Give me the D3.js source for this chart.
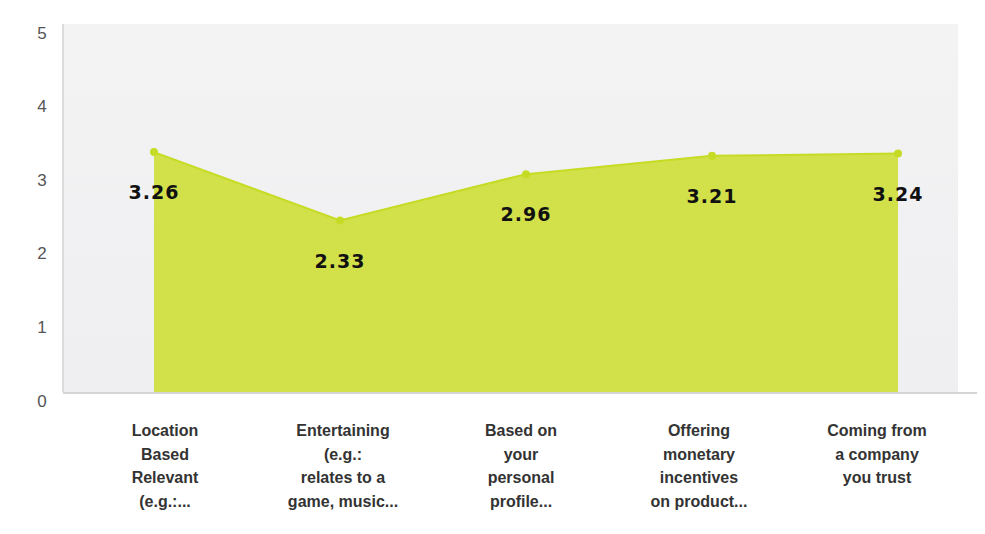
<!DOCTYPE html>
<html>
<head>
<meta charset="utf-8">
<script src="https://cdn.jsdelivr.net/npm/d3@7"></script>
<style>
  html, body { margin: 0; padding: 0; background: #ffffff; }
  svg { display: block; }
</style>
</head>
<body>
<svg id="chart" width="985" height="534"></svg>
<script>
const categories = [
  ["Location", "Based", "Relevant", "(e.g.:..."],
  ["Entertaining", "(e.g.:", "relates to a", "game, music..."],
  ["Based on", "your", "personal", "profile..."],
  ["Offering", "monetary", "incentives", "on product..."],
  ["Coming from", "a company", "you trust"]
];
const values = [3.26, 2.33, 2.96, 3.21, 3.24];
const valueLabels = ["3.26", "2.33", "2.96", "3.21", "3.24"];
const yTicks = [0, 1, 2, 3, 4, 5];

const svg = d3.select("#chart");
const plot = { left: 63, right: 958, top: 24, bottom: 392 };
const idx = categories.map((d, i) => i);

const y = d3.scaleLinear().domain([0, 5]).range([plot.bottom, plot.top]);
const x = d3.scalePoint().domain(idx).range([154, 898]);
const xLab = d3.scalePoint().domain(idx).range([165, 877]);

const defs = svg.append("defs");
const grad = defs.append("linearGradient").attr("id", "bg").attr("x1", 0).attr("y1", 0).attr("x2", 0).attr("y2", 1);
grad.append("stop").attr("offset", "0%").attr("stop-color", "#f3f3f4");
grad.append("stop").attr("offset", "100%").attr("stop-color", "#efeff1");

svg.append("rect")
  .attr("x", plot.left).attr("y", plot.top)
  .attr("width", plot.right - plot.left).attr("height", plot.bottom - plot.top)
  .attr("fill", "url(#bg)");

svg.append("line")
  .attr("x1", plot.left).attr("x2", plot.left)
  .attr("y1", plot.top).attr("y2", plot.bottom)
  .attr("stroke", "#dcdcdc").attr("stroke-width", 2);

svg.append("g").selectAll("text").data(yTicks).join("text")
  .attr("x", 42).attr("y", d => y(d) + 9)
  .attr("text-anchor", "middle").attr("dominant-baseline", "central")
  .attr("font-family", "Liberation Sans, Arial, sans-serif")
  .attr("font-size", 17).attr("fill", "#555")
  .text(d => d);

const area = d3.area()
  .x((d, i) => x(i))
  .y0(y(0))
  .y1(d => y(d));
svg.append("path").datum(values)
  .attr("d", area)
  .attr("fill", "#d2e04a");

const line = d3.line().x((d, i) => x(i)).y(d => y(d));
svg.append("path").datum(values)
  .attr("d", line)
  .attr("fill", "none")
  .attr("stroke", "#c6dc24").attr("stroke-width", 2);

svg.append("g").selectAll("circle").data(values).join("circle")
  .attr("cx", (d, i) => x(i)).attr("cy", d => y(d))
  .attr("r", 4).attr("fill", "#c6dc24");

svg.append("line")
  .attr("x1", plot.left).attr("x2", 977)
  .attr("y1", plot.bottom + 1).attr("y2", plot.bottom + 1)
  .attr("stroke", "#d4d4d4").attr("stroke-width", 2);

svg.append("g").selectAll("text").data(values).join("text")
  .attr("x", (d, i) => x(i)).attr("y", d => y(d) + 47)
  .attr("text-anchor", "middle")
  .attr("font-family", "DejaVu Sans, Verdana, sans-serif")
  .attr("font-weight", "bold").attr("font-size", 19)
  .attr("letter-spacing", 1)
  .attr("fill", "#111")
  .text((d, i) => valueLabels[i]);

const cg = svg.append("g").selectAll("text").data(categories).join("text")
  .attr("x", (d, i) => xLab(i))
  .attr("y", 436)
  .attr("text-anchor", "middle")
  .attr("font-family", "Liberation Sans, Arial, sans-serif")
  .attr("font-weight", "bold").attr("font-size", 16)
  .attr("fill", "#333");
cg.each(function(lines, i) {
  d3.select(this).selectAll("tspan").data(lines).join("tspan")
    .attr("x", xLab(i))
    .attr("dy", (d, j) => j === 0 ? 0 : 23.5)
    .text(d => d);
});
</script>
</body>
</html>
